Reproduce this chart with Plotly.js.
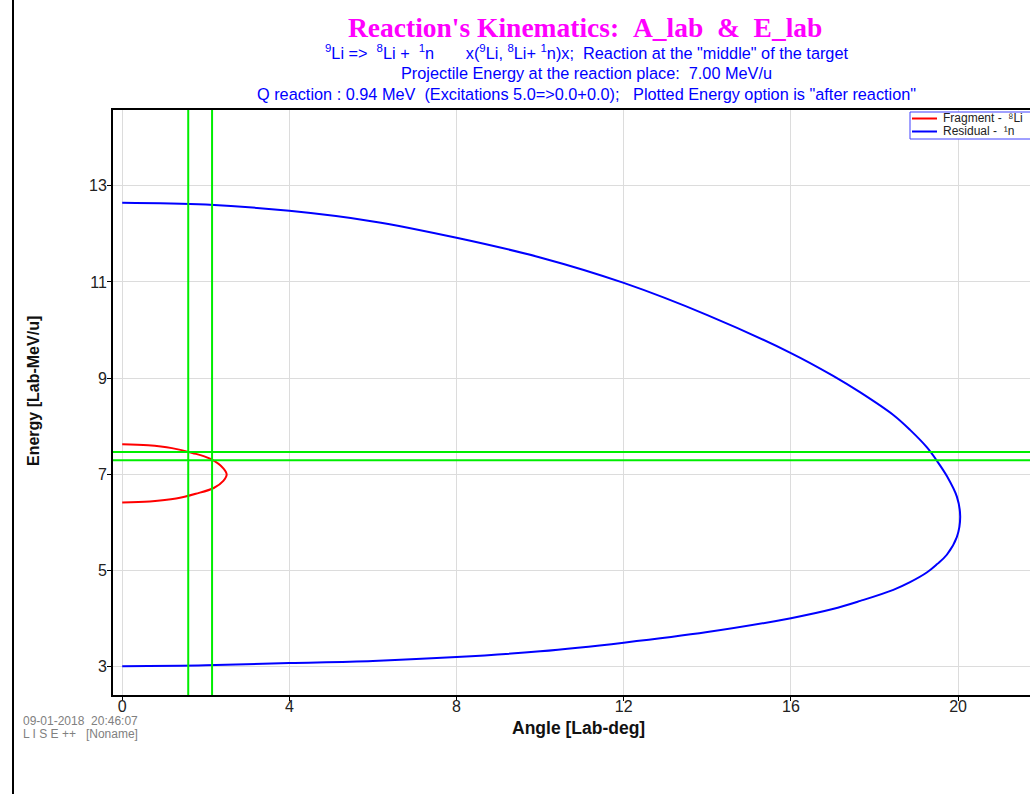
<!DOCTYPE html>
<html>
<head>
<meta charset="utf-8">
<script src="https://cdn.plot.ly/plotly-3.0.1.min.js"></script>
<style>html,body{margin:0;padding:0;background:#fff;}#chart{width:1030px;height:794px;}</style>
</head>
<body>
<div id="chart"></div>
<script>
// Fragment 8Li: lab angle (deg) and energy (MeV/u)
const fragAngle  = [0, 0.62, 1.19, 1.68, 2.10, 2.42, 2.50, 2.42, 2.19, 1.76, 1.29, 0.66, 0];
const fragEnergy = [7.62, 7.60, 7.54, 7.44, 7.32, 7.12, 6.99, 6.86, 6.71, 6.59, 6.49, 6.43, 6.41];
// Residual 1n: upper branch then lower branch
const resAngle  = [0, 2, 4, 6, 8, 10, 12, 14, 16, 17, 17.66, 18.45, 18.85, 19.25, 19.49, 19.73, 19.97, 20.05,
                   19.97, 19.73, 19.49, 19.25, 18.85, 18.45, 17.66, 17, 16, 14, 12, 10, 8, 6, 4, 2, 0];
const resEnergy = [12.65, 12.61, 12.48, 12.26, 11.92, 11.51, 10.98, 10.31, 9.52, 9.05, 8.70, 8.23, 7.92, 7.56, 7.28, 6.96, 6.53, 6.11,
                   5.69, 5.32, 5.12, 4.95, 4.75, 4.59, 4.36, 4.19, 4.00, 3.71, 3.49, 3.31, 3.19, 3.11, 3.065, 3.02, 3.00];
// green marker lines
const vLines = [1.58, 2.15];
const hLines = [7.46, 7.29];
const xTicks = [0, 4, 8, 12, 16, 20];
const yTicks = [3, 5, 7, 9, 11, 13];
const seriesNames  = ['Fragment -\u00a0\u00a0\u2078Li', 'Residual -\u00a0\u00a0\u00b9n'];
const seriesColors = ['#ff0000', '#0000ff'];

const traces = [
  {x: fragAngle, y: fragEnergy, mode: 'lines', name: seriesNames[0], showlegend:false,
   line: {color: seriesColors[0], width: 2, shape: 'spline', smoothing: 1}},
  {x: resAngle, y: resEnergy, mode: 'lines', name: seriesNames[1], showlegend:false,
   line: {color: seriesColors[1], width: 2, shape: 'spline', smoothing: 1}}
];

// pixel -> paper helpers
const L = 113, T = 110, W = 917, H = 585;
const px = x => (x - L) / W;
const py = y => 1 - (y - T) / H;

const shapes = [];
vLines.forEach(v => shapes.push({type:'line', xref:'x', yref:'paper', x0:v, x1:v, y0:0, y1:1, line:{color:'#00ee00', width:2}}));
hLines.forEach(h => shapes.push({type:'line', xref:'paper', yref:'y', x0:0, x1:1, y0:h, y1:h, line:{color:'#00ee00', width:2}}));
// page border line at left
shapes.push({type:'line', xref:'paper', yref:'paper', x0:px(13), x1:px(13), y0:py(800), y1:py(-5), line:{color:'#000', width:2}});
// legend box
shapes.push({type:'rect', xref:'paper', yref:'paper', x0:px(910), x1:px(1040), y0:py(139), y1:py(112), line:{color:'#4040ff', width:1}, fillcolor:'#fff'});
shapes.push({type:'line', xref:'paper', yref:'paper', x0:px(912), x1:px(937), y0:py(118.5), y1:py(118.5), line:{color:seriesColors[0], width:2}});
shapes.push({type:'line', xref:'paper', yref:'paper', x0:px(912), x1:px(937), y0:py(131.5), y1:py(131.5), line:{color:seriesColors[1], width:2}});

const S = '\u00a0';
const blue = '#0000ff';
const annotations = [
  {text: "Reaction's Kinematics:"+S+S+"A_lab"+S+S+"&"+S+S+"E_lab", x:585, y:27, font:{family:'Liberation Serif', size:27.5, color:'#ff00ff', weight:'bold'}},
  {text: "<sup>9</sup>Li =>"+S+S+"<sup>8</sup>Li +"+S+S+"<sup>1</sup>n"+S+S+S+S+S+S+S+"x(<sup>9</sup>Li,"+S+"<sup>8</sup>Li+"+S+"<sup>1</sup>n)x;"+S+S+"Reaction at the \"middle\" of the target", x:586, y:52, font:{family:'Liberation Sans', size:16.3, color:blue}},
  {text: "Projectile Energy at the reaction place:"+S+S+"7.00 MeV/u", x:586, y:73, font:{family:'Liberation Sans', size:16.3, color:blue}},
  {text: "Q reaction : 0.94 MeV"+S+S+"(Excitations 5.0=>0.0+0.0);"+S+S+S+"Plotted Energy option is \"after reaction\"", x:586, y:94, font:{family:'Liberation Sans', size:16.3, color:blue}},
  {text: "09-01-2018"+S+S+"20:46:07", x:21, y:721, xanchor:'left', font:{family:'Liberation Sans', size:12, color:'#808080'}},
  {text: "L I S E ++"+S+S+S+"[Noname]", x:21, y:734, xanchor:'left', font:{family:'Liberation Sans', size:12, color:'#808080'}},
  {text: "<b>Angle [Lab-deg]</b>", x:578, y:728, font:{family:'Liberation Sans', size:17.5, color:'#111'}},
  {text: "<b>Energy [Lab-MeV/u]</b>", x:33, y:391, textangle:-90, font:{family:'Liberation Sans', size:16, color:'#111'}},
  {text: seriesNames[0], x:941, y:118, xanchor:'left', font:{family:'Liberation Sans', size:12, color:'#222'}},
  {text: seriesNames[1], x:941, y:131, xanchor:'left', font:{family:'Liberation Sans', size:12, color:'#222'}}
].map(a => Object.assign({xref:'paper', yref:'paper', showarrow:false, xanchor:'center', yanchor:'middle'}, a, {
  x: px(a.x), y: py(a.y)
}));

const layout = {
  width: 1030, height: 794,
  margin: {l:L, r:0, t:T, b:99, pad:0},
  paper_bgcolor: '#fff', plot_bgcolor: '#fff',
  font: {family: 'Liberation Sans', color: '#222'},
  showlegend: false,
  xaxis: {range:[-0.22, 21.72], tickvals: xTicks, ticks:'outside', ticklen:4, tickwidth:1, tickcolor:'#000',
          showline:true, linecolor:'#000', linewidth:2, mirror:true, showgrid:true, gridcolor:'#dcdcdc', gridwidth:1,
          zeroline:false, tickfont:{size:16, color:'#222'}, ticklabelstandoff:-8},
  yaxis: {range:[2.40, 14.58], tickvals: yTicks, ticks:'outside', ticklen:4, tickwidth:1, tickcolor:'#000',
          showline:true, linecolor:'#000', linewidth:2, mirror:false, showgrid:true, gridcolor:'#dcdcdc', gridwidth:1,
          zeroline:false, tickfont:{size:16, color:'#222'}, ticklabelstandoff:-3},
  shapes: shapes,
  annotations: annotations
};

Plotly.newPlot('chart', traces, layout, {displayModeBar:false, staticPlot:true});
</script>
</body>
</html>
